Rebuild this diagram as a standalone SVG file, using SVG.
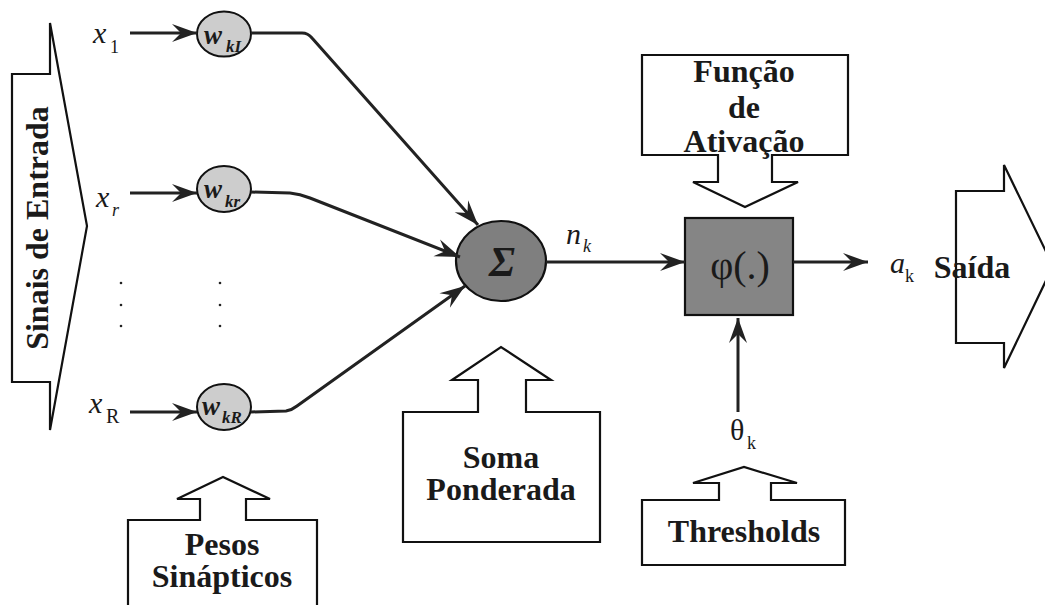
<svg xmlns="http://www.w3.org/2000/svg" width="1045" height="605" viewBox="0 0 1045 605">
<style>
.blk{fill:#fff;stroke:#111;stroke-width:2.2;stroke-linejoin:miter}
.lbl{font-family:"Liberation Serif","Times New Roman",serif;font-weight:bold;font-size:32px;fill:#1a1a1a;text-anchor:middle}
.math{font-family:"Liberation Serif","Times New Roman",serif;fill:#1a1a1a}
.con{fill:none;stroke:#222;stroke-width:3;marker-end:url(#ah)}
.wc{fill:#cdcdcd;stroke:#111;stroke-width:2}
</style>
<defs>
<marker id="ah" markerUnits="userSpaceOnUse" markerWidth="30" markerHeight="20" viewBox="-26 -10 28 20" refX="0" refY="0" orient="auto">
<path d="M0,0 L-25,-9 L-16,0 L-25,9 Z" fill="#222"/>
</marker>
</defs>

<g id="entrada">
<path class="blk" d="M12,74 L50,74 L50,23 L87,226 L50,430 L50,382 L12,382 Z"/>
<text class="lbl" transform="translate(48,228) rotate(-90)">Sinais de Entrada</text>
</g>

<g id="inputs" class="math">
<text x="93" y="43" font-size="30" font-style="italic">x</text>
<text x="110" y="53" font-size="18">1</text>
<text x="96" y="207" font-size="30" font-style="italic">x</text>
<text x="112" y="216" font-size="18" font-style="italic">r</text>
<text x="89" y="413" font-size="30" font-style="italic">x</text>
<text x="106" y="423" font-size="20">R</text>
</g>

<g id="dots" fill="#222">
<circle cx="121" cy="283" r="1.3"/><circle cx="121" cy="305" r="1.3"/><circle cx="121" cy="326" r="1.3"/>
<circle cx="220" cy="283" r="1.3"/><circle cx="220" cy="305" r="1.3"/><circle cx="220" cy="326" r="1.3"/>
</g>

<g id="w1">
<ellipse class="wc" cx="224" cy="34" rx="27" ry="22.5"/>
<text class="math" x="204" y="44" font-size="27" font-style="italic" font-weight="bold">w</text>
<text class="math" x="226" y="52" font-size="17" font-style="italic" font-weight="bold">kI</text>
</g>
<g id="wr">
<ellipse class="wc" cx="224" cy="189" rx="27" ry="23"/>
<text class="math" x="204" y="198" font-size="27" font-style="italic" font-weight="bold">w</text>
<text class="math" x="225" y="207" font-size="17" font-style="italic" font-weight="bold">kr</text>
</g>
<g id="wR">
<ellipse class="wc" cx="224" cy="407" rx="27" ry="23"/>
<text class="math" x="202" y="415" font-size="27" font-style="italic" font-weight="bold">w</text>
<text class="math" x="222" y="423" font-size="17" font-style="italic" font-weight="bold">kR</text>
</g>

<g id="pesos">
<path class="blk" d="M128,520 L200,520 L200,499 L177,499 L223,477 L270,499 L246,499 L246,520 L317,520 L317,615 L128,615 Z"/>
<text class="lbl" x="222" y="555">Pesos</text>
<text class="lbl" x="222" y="587">Sinápticos</text>
</g>

<g id="soma">
<ellipse cx="501" cy="261" rx="45" ry="40" fill="#7f7f7f" stroke="#111" stroke-width="2.2"/>
<text class="math" x="502" y="276" font-size="42" font-style="italic" font-weight="bold" text-anchor="middle">Σ</text>
</g>

<g id="somaPonderada">
<path class="blk" d="M403,412 L478,412 L478,380 L452,380 L501,347 L551,380 L526,380 L526,412 L600,412 L600,542 L403,542 Z"/>
<text class="lbl" x="501" y="468">Soma</text>
<text class="lbl" x="501" y="500">Ponderada</text>
</g>

<g id="nk" class="math">
<text x="566" y="244" font-size="30" font-style="italic">n</text>
<text x="583" y="252" font-size="18" font-style="italic">k</text>
</g>

<g id="phi">
<rect x="685" y="218" width="108" height="97" fill="#858585" stroke="#111" stroke-width="2.2"/>
<text class="math" x="740" y="279" font-size="40" text-anchor="middle">φ(.)</text>
</g>

<g id="funcao">
<path class="blk" d="M642,55 L848,55 L848,155 L772,155 L772,182 L798,182 L745,207 L693,182 L718,182 L718,155 L642,155 Z"/>
<text class="lbl" x="744" y="82">Função</text>
<text class="lbl" x="744" y="118">de</text>
<text class="lbl" x="744" y="152">Ativação</text>
</g>

<g id="theta" class="math">
<text x="730" y="440" font-size="30">θ</text>
<text x="747" y="449" font-size="18">k</text>
</g>

<g id="thresholds">
<path class="blk" d="M642,500 L719,500 L719,483 L693,483 L744,467 L797,483 L771,483 L771,500 L845,500 L845,565 L642,565 Z"/>
<text class="lbl" x="744" y="542">Thresholds</text>
</g>

<g id="ak" class="math">
<text x="890" y="273" font-size="30" font-style="italic">a</text>
<text x="905" y="282" font-size="18">k</text>
</g>

<g id="saida">
<path class="blk" d="M956,191 L1004,191 L1004,165 L1053,266 L1004,368 L1004,343 L956,343 Z"/>
<text class="lbl" x="972" y="278" text-anchor="start">Saída</text>
</g>

<g id="connectors">
<path class="con" d="M130,33 L197,33"/>
<path class="con" d="M130,193 L197,193"/>
<path class="con" d="M130,412 L197,412"/>
<path class="con" d="M251,33 L302,33 Q308,33 312,38 L478,225"/>
<path class="con" d="M251,192 L290,193 Q300,194 310,198 L460,257"/>
<path class="con" d="M251,412 L286,411 Q292,410 297,406 L465,286"/>
<path class="con" d="M546,262 L685,262"/>
<path class="con" d="M793,262 L868,262"/>
<path class="con" d="M738,412 L738,318"/>
</g>
</svg>
